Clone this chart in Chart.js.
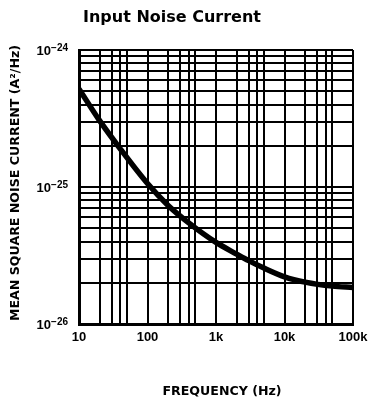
<!DOCTYPE html>
<html>
<head>
<meta charset="utf-8">
<script src="https://cdn.jsdelivr.net/npm/chart.js@4/dist/chart.umd.min.js"></script>
<style>
  html, body { margin: 0; padding: 0; background: #fff; }
  #wrap { width: 368px; height: 402px; position: relative; }
</style>
</head>
<body>
<div id="wrap"><canvas id="c" width="368" height="402"></canvas></div>
<script>
// ---- data ----
const frequencyHz = [10, 20, 40, 100, 200, 400, 1000, 2000, 3000, 5000, 10000, 20000, 50000, 100000];
const noiseCurrent = [5.2e-25, 3.05e-25, 1.9e-25, 1.06e-25, 7.33e-26, 5.47e-26, 3.94e-26, 3.24e-26, 2.9e-26, 2.56e-26, 2.21e-26, 2.02e-26, 1.89e-26, 1.85e-26];

// axis grid / tick definitions
const xDecades = [10, 100, 1000, 10000];
const xMantissas = [1, 2, 3, 4, 5];
const xMax = 100000;
const xTickLabels = { 10: '10', 100: '100', 1000: '1k', 10000: '10k', 100000: '100k' };

const yDecades = [1e-26, 1e-25];
const yMantissas = [1, 2, 3, 4, 5, 6, 7, 8, 9];
const yMax = 1e-24;
const yTickLabels = [[1e-26, '−26'], [1e-25, '−25'], [1e-24, '−24']];

const titleText = 'Input Noise Current';
const xTitleText = 'FREQUENCY (Hz)';
const yTitleText = 'MEAN SQUARE NOISE CURRENT (A²/Hz)';

const xGrid = [];
xDecades.forEach(d => xMantissas.forEach(m => xGrid.push(m * d)));
xGrid.push(xMax);
const yGrid = [];
yDecades.forEach(d => yMantissas.forEach(m => yGrid.push(m * d)));
yGrid.push(yMax);

const TICK_FONT = 'bold 13px "Liberation Sans", Arial, sans-serif';
const EXP_FONT = 'bold 10px "Liberation Sans", Arial, sans-serif';
const TITLE_FONT = 'bold 16px "DejaVu Sans", sans-serif';
const AXIS_TITLE_FONT = 'bold 12.6px "DejaVu Sans", sans-serif';

const textPlugin = {
  id: 'texts',
  afterDraw(chart) {
    const ctx = chart.ctx;
    const xs = chart.scales.x, ys = chart.scales.y;
    ctx.save();
    ctx.fillStyle = '#000';
    // title
    ctx.font = TITLE_FONT;
    ctx.textAlign = 'center';
    ctx.textBaseline = 'middle';
    ctx.fillText(titleText, 172, 18);
    // x tick labels
    ctx.font = TICK_FONT;
    Object.keys(xTickLabels).forEach(k => {
      const v = Number(k);
      ctx.fillText(xTickLabels[k], xs.getPixelForValue(v), 337);
    });
    // y tick labels: 10 with superscript exponent
    const rightX = 68;
    yTickLabels.forEach(([v, exp]) => {
      const py = ys.getPixelForValue(v);
      ctx.font = EXP_FONT;
      ctx.textAlign = 'right';
      ctx.textBaseline = 'alphabetic';
      const ew = ctx.measureText(exp).width;
      ctx.fillText(exp, rightX, py + 0.5);
      ctx.font = TICK_FONT;
      ctx.fillText('10', rightX - ew, py + 5);
    });
    // x title
    ctx.font = AXIS_TITLE_FONT;
    ctx.textAlign = 'center';
    ctx.textBaseline = 'middle';
    ctx.fillText(xTitleText, 222, 392);
    // y title
    ctx.translate(16, 183);
    ctx.rotate(-Math.PI / 2);
    ctx.fillText(yTitleText, 0, 0);
    ctx.restore();
  }
};

new Chart(document.getElementById('c'), {
  type: 'line',
  data: {
    datasets: [{
      data: frequencyHz.map((f, i) => ({ x: f, y: noiseCurrent[i] })),
      borderColor: '#000',
      borderWidth: 5.5,
      pointRadius: 0,
      fill: false,
      cubicInterpolationMode: 'monotone',
      borderCapStyle: 'butt'
    }]
  },
  options: {
    responsive: false,
    animation: false,
    layout: { padding: { left: 79, right: 15, top: 50, bottom: 78 } },
    plugins: { legend: { display: false }, tooltip: { enabled: false }, title: { display: false } },
    scales: {
      x: {
        type: 'logarithmic',
        min: 10, max: xMax,
        afterBuildTicks: axis => { axis.ticks = xGrid.map(v => ({ value: v })); },
        ticks: { display: false },
        grid: { color: '#000', lineWidth: 2, drawTicks: false },
        border: { display: true, color: '#000', width: 3 }
      },
      y: {
        type: 'logarithmic',
        min: 1e-26, max: yMax,
        afterBuildTicks: axis => { axis.ticks = yGrid.map(v => ({ value: v })); },
        ticks: { display: false },
        grid: { color: '#000', lineWidth: 2, drawTicks: false },
        border: { display: true, color: '#000', width: 3 }
      }
    }
  },
  plugins: [textPlugin]
});
</script>
</body>
</html>
